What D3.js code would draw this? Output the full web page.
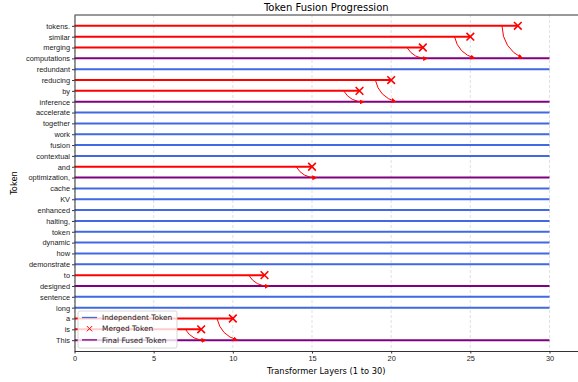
<!DOCTYPE html>
<html>
  <head>
    <meta charset="utf-8">
    <script src="https://cdn.jsdelivr.net/npm/d3@7"></script>
    <style>
      body { margin: 0; background: #fff; }
      svg { font-family: "DejaVu Sans", sans-serif; }
      .axis path, .axis line { stroke: #333; }
      .axis text { fill: #222; font-size: 7.4px; }
    </style>
  </head>
  <body>
    <script>
      // tokens, bottom to top
      var tokens = ["This", "is", "a", "long", "sentence", "designed", "to", "demonstrate", "how",
        "dynamic", "token", "halting,", "enhanced", "KV", "cache", "optimization,", "and",
        "contextual", "fusion", "work", "together", "accelerate", "inference", "by", "reducing",
        "redundant", "computations", "merging", "similar", "tokens."];

      // merged tokens, the layer they get merged at and the token they merge into
      var mergedTokens = ["is", "a", "to", "and", "by", "reducing", "merging", "similar", "tokens."];
      var mergeLayers = [8, 10, 12, 15, 18, 20, 22, 25, 28];
      var mergeTargets = ["This", "This", "designed", "optimization,", "inference", "inference",
        "computations", "computations", "computations"];

      var finalTokens = ["This", "designed", "optimization,", "inference", "computations"];
      var numLayers = 30;
      var xTicks = [0, 5, 10, 15, 20, 25, 30];

      var svgWidth = 578, svgHeight = 382;
      var plotLeft = 74.5, plotTop = 15, plotBottom = 351;

      var svg = d3.select("body").append("svg")
        .attr("width", svgWidth)
        .attr("height", svgHeight);

      var x = d3.scaleLinear().domain([0, 31.8]).range([plotLeft, 578]);
      var y = d3.scaleLinear().domain([-1, tokens.length]).range([plotBottom, plotTop]);

      // grid
      svg.append("g").selectAll("line")
        .data(xTicks)
        .enter().append("line")
        .attr("x1", function(d) { return x(d); })
        .attr("x2", function(d) { return x(d); })
        .attr("y1", plotTop)
        .attr("y2", plotBottom)
        .attr("stroke", "#ccc")
        .attr("stroke-width", 0.6)
        .attr("stroke-dasharray", "3,2");

      // token lines
      svg.append("g").selectAll("line")
        .data(tokens)
        .enter().append("line")
        .attr("x1", x(0))
        .attr("x2", function(d) {
          var m = mergedTokens.indexOf(d);
          return m >= 0 ? x(mergeLayers[m]) : x(numLayers);
        })
        .attr("y1", function(d, i) { return y(i); })
        .attr("y2", function(d, i) { return y(i); })
        .attr("stroke", function(d) {
          if (mergedTokens.indexOf(d) >= 0) return "red";
          if (finalTokens.indexOf(d) >= 0) return "purple";
          return "royalblue";
        })
        .attr("stroke-width", 2);

      // arrows
      svg.append("defs").append("marker")
        .attr("id", "head")
        .attr("viewBox", "0 0 10 10")
        .attr("refX", 9).attr("refY", 5)
        .attr("markerWidth", 5).attr("markerHeight", 5)
        .attr("markerUnits", "userSpaceOnUse")
        .attr("orient", "auto")
        .append("path")
        .attr("d", "M0,0L10,5L0,10Z")
        .attr("fill", "red");

      var rad = 0.3;
      svg.append("g").selectAll("path")
        .data(mergedTokens)
        .enter().append("path")
        .attr("d", function(d, i) {
          var ax = x(mergeLayers[i] - 1), ay = y(tokens.indexOf(d));
          var bx = x(mergeLayers[i] + 0.3), by = y(tokens.indexOf(mergeTargets[i]));
          var cx = (ax + bx) / 2 - rad * (by - ay);
          var cy = (ay + by) / 2 + rad * (bx - ax);
          return "M" + ax + "," + ay + "Q" + cx + "," + cy + " " + bx + "," + by;
        })
        .attr("fill", "none")
        .attr("stroke", "red")
        .attr("stroke-width", 1)
        .attr("marker-end", "url(#head)");

      // merge markers
      var cross = d3.symbol().type(d3.symbolX).size(40);
      svg.append("g").selectAll("path")
        .data(mergedTokens)
        .enter().append("path")
        .attr("transform", function(d, i) {
          return "translate(" + x(mergeLayers[i]) + "," + y(tokens.indexOf(d)) + ")";
        })
        .attr("d", cross)
        .attr("fill", "none")
        .attr("stroke", "red")
        .attr("stroke-width", 1.6);

      // axes
      svg.append("g")
        .attr("class", "axis")
        .attr("transform", "translate(0," + plotBottom + ")")
        .call(d3.axisBottom(x).tickValues(xTicks).tickSize(2.5).tickPadding(2).tickSizeOuter(0));

      svg.append("g")
        .attr("class", "axis")
        .attr("transform", "translate(" + plotLeft + ",0)")
        .call(d3.axisLeft(y).tickValues(d3.range(tokens.length))
          .tickFormat(function(i) { return tokens[i]; })
          .tickSize(2.5).tickPadding(2).tickSizeOuter(0));

      svg.append("line")
        .attr("x1", plotLeft).attr("x2", svgWidth)
        .attr("y1", plotTop).attr("y2", plotTop)
        .attr("stroke", "#333");

      // labels
      svg.append("text")
        .attr("x", (plotLeft + svgWidth) / 2).attr("y", 10.5)
        .attr("text-anchor", "middle")
        .style("font-size", "10px")
        .text("Token Fusion Progression");

      svg.append("text")
        .attr("x", (plotLeft + svgWidth) / 2).attr("y", 374)
        .attr("text-anchor", "middle")
        .style("font-size", "8.3px")
        .text("Transformer Layers (1 to 30)");

      svg.append("text")
        .attr("transform", "translate(17," + ((plotTop + plotBottom) / 2) + ")rotate(-90)")
        .attr("text-anchor", "middle")
        .style("font-size", "8.3px")
        .text("Token");

      // legend
      var legend = svg.append("g").attr("transform", "translate(78,311)");
      legend.append("rect")
        .attr("width", 99).attr("height", 37)
        .attr("rx", 2)
        .attr("fill", "white").attr("fill-opacity", 0.8)
        .attr("stroke", "#ccc").attr("stroke-width", 0.8);

      var legendNames = ["Independent Token", "Merged Token", "Final Fused Token"];
      var legendColors = ["royalblue", "red", "purple"];
      var items = legend.selectAll(".item")
        .data(legendNames)
        .enter().append("g")
        .attr("transform", function(d, i) { return "translate(0," + (6.5 + i * 11.2) + ")"; });

      items.each(function(d, i) {
        var g = d3.select(this);
        if (i === 1) {
          g.append("path")
            .attr("transform", "translate(11.5,0)")
            .attr("d", d3.symbol().type(d3.symbolX).size(20))
            .attr("fill", "none").attr("stroke", "red").attr("stroke-width", 1);
        } else {
          g.append("line")
            .attr("x1", 4).attr("x2", 19)
            .attr("stroke", legendColors[i]).attr("stroke-width", 1.3);
        }
        g.append("text")
          .attr("x", 24).attr("y", 2.7)
          .style("font-size", "7.4px")
          .attr("fill", "#222")
          .text(d);
      });
    </script>
  </body>
</html>
